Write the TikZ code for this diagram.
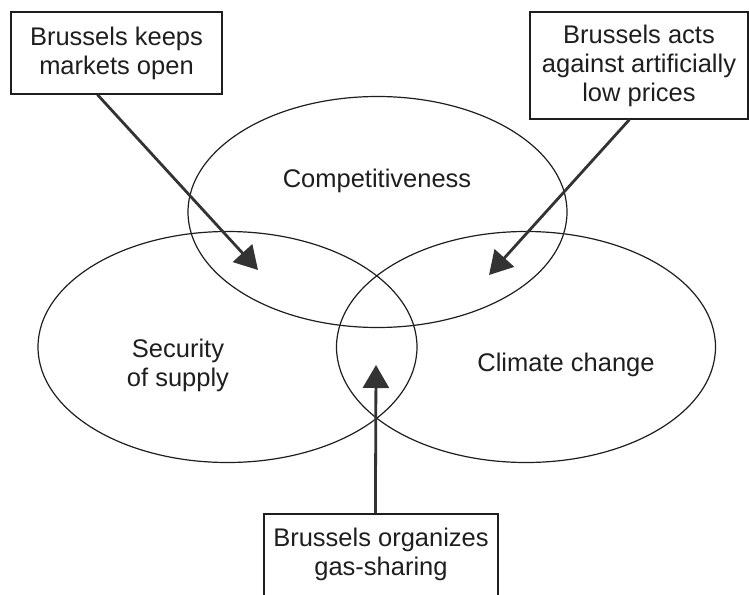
\documentclass[tikz,border=0pt]{standalone}
\usepackage{fontspec}
\setmainfont{Liberation Sans}
\usetikzlibrary{shapes.geometric,arrows.meta,calc}
\definecolor{ink}{HTML}{1E1E1E}
\definecolor{arrowink}{HTML}{333333}
\begin{document}
\begin{tikzpicture}[x=1pt,y=-1pt,
  sphere/.style={ellipse,draw=ink,line width=1.2pt,minimum width=379pt,minimum height=231pt,inner sep=0pt},
  lbl/.style={text=ink,font=\fontsize{25.5}{29}\selectfont,align=center,inner sep=0pt},
  callout/.style={rectangle,draw=ink,line width=1.2pt,inner sep=0pt,text=ink,
    font=\fontsize{25.5}{29}\selectfont,align=center},
  push/.style={draw=arrowink,line width=2.8pt,
    -{Triangle[length=23pt,width=26pt,fill=arrowink]}}]
\useasboundingbox (0,0) rectangle (749,594);
\clip (0,0) rectangle (749,594);

% the three policy goals
\node[sphere] (comp) at (377.5,212) {};
\node[sphere] (sec)  at (227.5,347) {};
\node[sphere] (clim) at (526,347) {};

\node[lbl,anchor=base] (comptext) at (377,187) {Competitiveness};
\node[lbl] (sectext) at (178,365) {Security\\of supply};
\node[lbl,anchor=base] (climtext) at (566,371) {Climate change};

% the three interventions
\node[callout,minimum width=211pt,minimum height=82pt] (keep) at (116.5,53)
  {Brussels keeps\\markets open};
\node[callout,minimum width=218pt,minimum height=107pt] (acts) at (639,65.5)
  {Brussels acts\\against artificially\\low prices};
\node[callout,minimum width=234pt,minimum height=106pt] (gas) at (381,567) {};
\node[lbl] (gastext) at (381,554) {Brussels organizes\\gas-sharing};

% where each intervention lands
\coordinate (keeptip) at (258,270);
\coordinate (actstip) at (489,275);
\coordinate (gastip)  at (376,365);

\draw[push] ($(keep.south west)+(87,0)$) -- (keeptip);
\draw[push] ($(acts.south west)+(100,0)$) -- (actstip);
\draw[push] ($(gas.north west)+(112,0)$) -- (gastip);
\end{tikzpicture}
\end{document}
